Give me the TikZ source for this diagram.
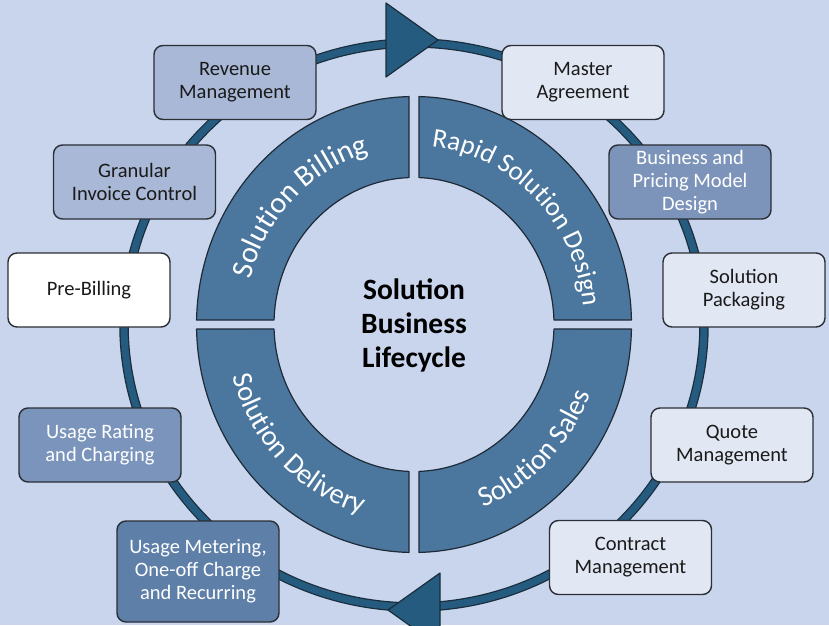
\documentclass[tikz,border=0pt]{standalone}
\usepackage{fontspec}
\setmainfont{Carlito}
\usetikzlibrary{decorations.text}
\definecolor{bg}{HTML}{C9D5EC}
\definecolor{ringfill}{HTML}{245B7F}
\definecolor{ringedge}{HTML}{1A2D3C}
\definecolor{segfill}{HTML}{4B779F}
\definecolor{segline}{HTML}{1E2A36}
\definecolor{boxline}{HTML}{2A2E35}
\definecolor{boxlight}{HTML}{E1E8F4}
\definecolor{boxmid}{HTML}{A9B8D6}
\definecolor{boxblue}{HTML}{7D94BA}
\definecolor{boxrate}{HTML}{7A94BB}
\definecolor{boxdark}{HTML}{5D7FA8}
\definecolor{darktext}{HTML}{1A1A1A}
\begin{document}
\begin{tikzpicture}[x=1pt,y=1pt,
  box/.style={draw=boxline, line width=1.4pt, rounded corners=9pt,
    minimum width=162pt, minimum height=74pt, align=center,
    font=\fontsize{20.5}{23}\selectfont, inner sep=2pt, text=darktext},
  wbox/.style={box, text=white},
  segment/.style={fill=segfill, draw=segline, line width=1.2pt, line join=round},
  arrowhd/.style={fill=ringfill, draw=ringedge, line width=1.2pt, line join=round},
  segtext/.style 2 args={decorate, decoration={text along path, text align=center,
    text color=white, text={|\fontsize{#1}{#1}\selectfont|#2}}}
]
\clip (0,0) rectangle (829,625);
\fill[bg] (0,0) rectangle (829,625);

% outer ring
\draw[ringedge, line width=9.5pt] (414,300) ellipse [x radius=290pt, y radius=282pt];
\draw[ringfill, line width=7pt] (414,300) ellipse [x radius=290pt, y radius=282pt];
\filldraw[arrowhd] (386,622) -- (438,585) -- (386,548) -- cycle;
\filldraw[arrowhd] (440,52) -- (388,15) -- (440,-22) -- cycle;

% inner segments
\begin{scope}[shift={(414,300.5)}]
\filldraw[segment] (88.683:217.5pt and 228pt)
  arc[start angle=88.683, end angle=1.131, x radius=217.5pt, y radius=228pt]
  -- (1.754:140pt and 147pt)
  arc[start angle=1.754, end angle=87.953, x radius=140pt, y radius=147pt] -- cycle;
\filldraw[segment] (91.317:217.5pt and 228pt)
  arc[start angle=91.317, end angle=178.869, x radius=217.5pt, y radius=228pt]
  -- (178.246:140pt and 147pt)
  arc[start angle=178.246, end angle=92.047, x radius=140pt, y radius=147pt] -- cycle;
\filldraw[segment] (181.131:217.5pt and 228pt)
  arc[start angle=181.131, end angle=268.683, x radius=217.5pt, y radius=228pt]
  -- (267.953:140pt and 147pt)
  arc[start angle=267.953, end angle=181.754, x radius=140pt, y radius=147pt] -- cycle;
\filldraw[segment] (271.317:217.5pt and 228pt)
  arc[start angle=271.317, end angle=358.869, x radius=217.5pt, y radius=228pt]
  -- (358.246:140pt and 147pt)
  arc[start angle=358.246, end angle=272.047, x radius=140pt, y radius=147pt] -- cycle;

\path[segtext={30}{Solution Billing}] (180:169pt and 178pt)
  arc[start angle=180, end angle=90, x radius=169pt, y radius=178pt];
\path[segtext={27}{Rapid Solution Design}] (90:170pt and 179pt)
  arc[start angle=90, end angle=0, x radius=170pt, y radius=179pt];
\path[segtext={28.5}{Solution Delivery}] (180:188pt and 197pt)
  arc[start angle=180, end angle=270, x radius=188pt, y radius=197pt];
\path[segtext={28.5}{Solution Sales}] (270:188pt and 197pt)
  arc[start angle=270, end angle=360, x radius=188pt, y radius=197pt];
\end{scope}

\node[font=\bfseries\fontsize{29.5}{34}\selectfont, align=center] (title) at (414,300) {Solution\\Business\\Lifecycle};

% boxes
\node[box, fill=boxmid] (rev) at (235,542.5) {Revenue\\Management};
\node[box, fill=boxmid] (gic) at (134.5,443) {Granular\\Invoice Control};
\node[box, fill=white] (pre) at (89,335) {Pre-Billing};
\node[wbox, fill=boxrate] (urc) at (100,180) {Usage Rating\\and Charging};
\node[wbox, fill=boxdark, minimum height=101pt] (umr) at (198,53.5) {Usage Metering,\\One-off Charge\\and Recurring};
\node[box, fill=boxlight] (mag) at (583,542.5) {Master\\Agreement};
\node[wbox, fill=boxblue] (bpm) at (690,443) {Business and\\Pricing Model\\Design};
\node[box, fill=boxlight] (spk) at (744,335) {Solution\\Packaging};
\node[box, fill=boxlight] (qm) at (732,180) {Quote\\Management};
\node[box, fill=boxlight] (cm) at (630.5,67.5) {Contract\\Management};
\end{tikzpicture}
\end{document}
